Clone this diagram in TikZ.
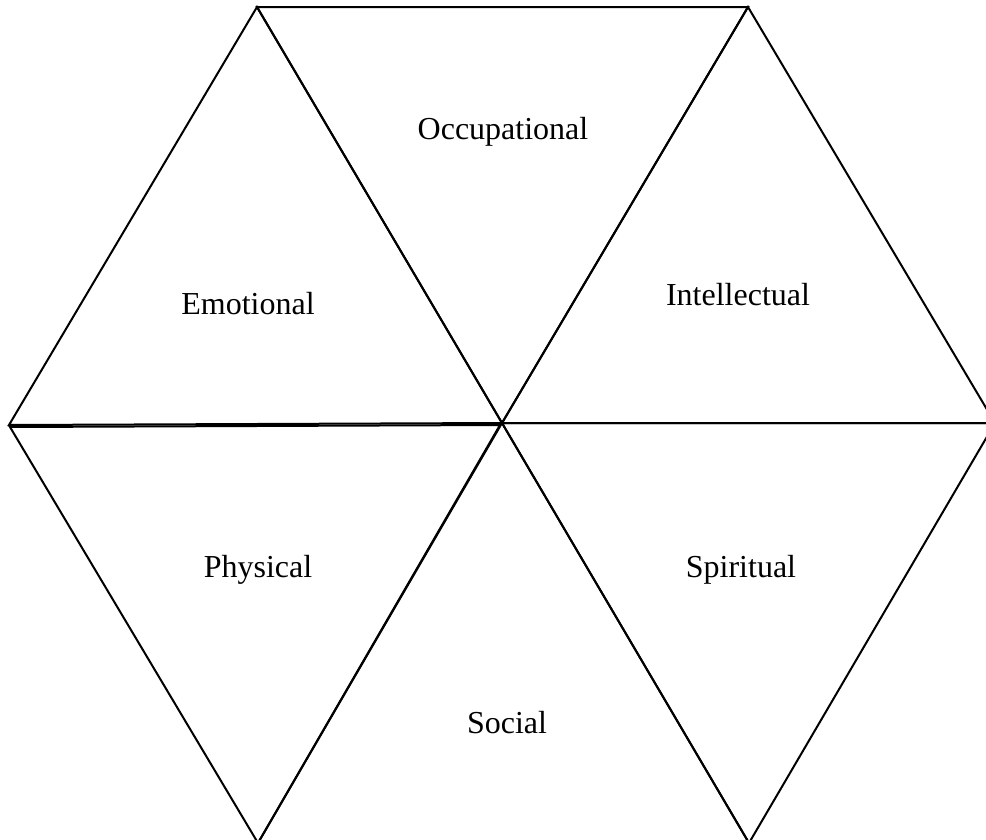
\documentclass[tikz,border=0pt]{standalone}
\usepackage{fontspec}
\setmainfont{Liberation Serif}
\begin{document}
\begin{tikzpicture}[x=1pt,y=-1pt,
  tri/.style={draw=black,line width=2pt,line join=miter},
  lbl/.style={anchor=base,inner sep=0pt,font=\fontsize{32}{38}\selectfont}]
\useasboundingbox (0,0) rectangle (986,839);
\clip (0,0) rectangle (986,839);
\coordinate (TL) at (257,7);
\coordinate (TR) at (748,7);
\coordinate (L) at (9,425);
\coordinate (C) at (502,423);
\coordinate (R) at (995,423);
\coordinate (BL) at (258,843);
\coordinate (BR) at (749,843);
\coordinate (L2) at (10,427);
\coordinate (C2) at (500,425);
% triangles
\draw[tri] (TL) -- (L) -- (C) -- cycle;
\draw[tri] (TL) -- (TR) -- (C) -- cycle;
\draw[tri] (TR) -- (C) -- (R) -- cycle;
\draw[tri] (L2) -- (C2) -- (BL) -- cycle;
\draw[tri] (C) -- (BL) -- (BR) -- cycle;
\draw[tri] (C) -- (R) -- (BR) -- cycle;
% labels
\node[lbl] (occ) at (503,139) {Occupational};
\node[lbl] (emo) at (248,314) {Emotional};
\node[lbl] (int) at (738,305) {Intellectual};
\node[lbl] (phy) at (258,577) {Physical};
\node[lbl] (spi) at (741,577) {Spiritual};
\node[lbl] (soc) at (507,733) {Social};
\end{tikzpicture}
\end{document}
